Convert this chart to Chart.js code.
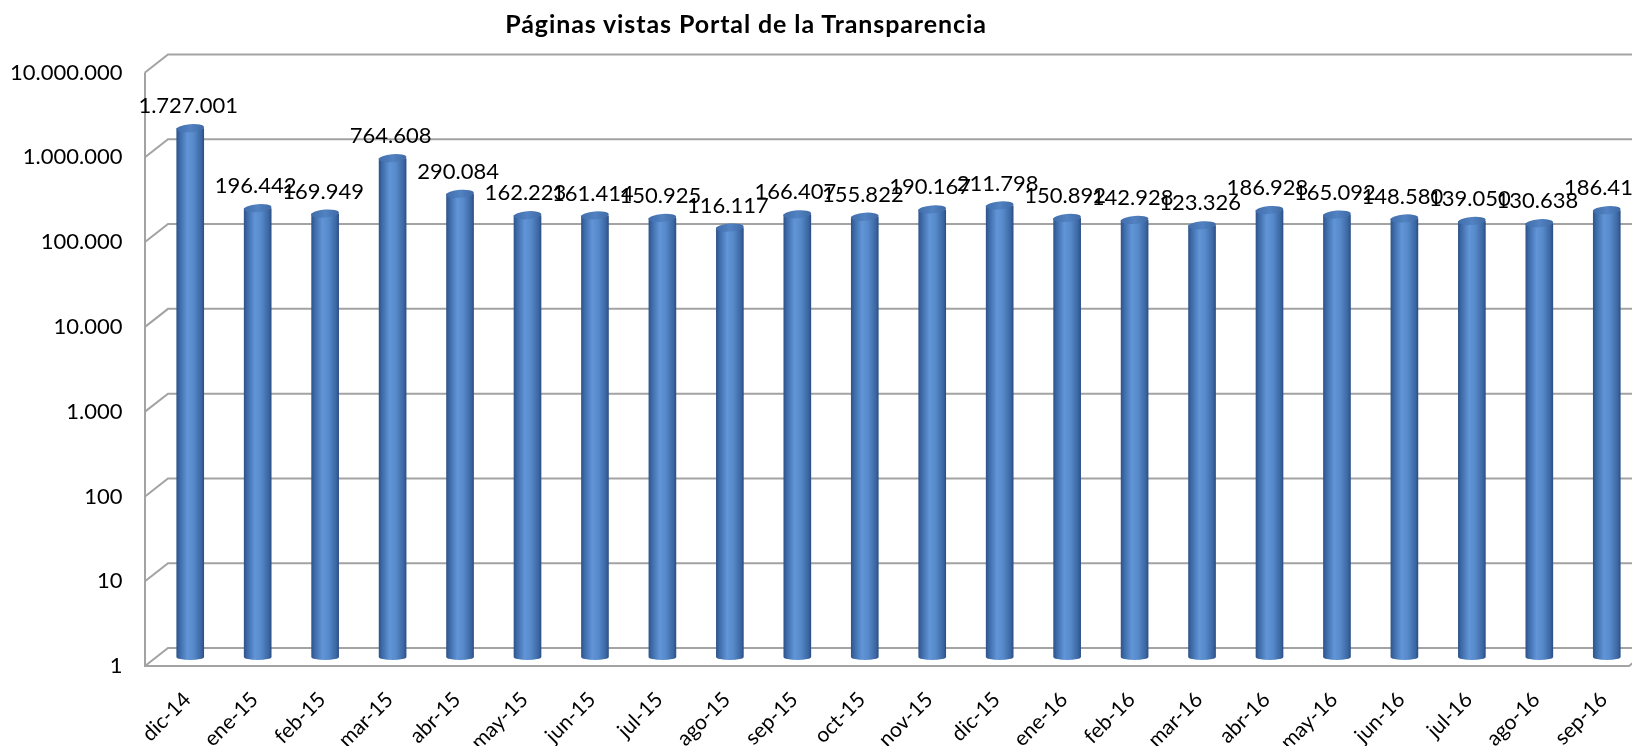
<!DOCTYPE html>
<html lang="es">
<head>
<meta charset="utf-8">
<title>Páginas vistas Portal de la Transparencia</title>
<script src="https://cdn.jsdelivr.net/npm/chart.js@4.4.1/dist/chart.umd.min.js"></script>
<style>
    html, body { margin: 0; padding: 0; background: #fff; overflow: hidden; }
    #wrap { position: relative; width: 1632px; height: 746px; overflow: hidden; }
    #chartTitle {
        position: absolute; left: 0; top: 7px; width: 1492px;
        text-align: center; font: bold 25px Lato, sans-serif; color: #000;
        letter-spacing: 0.9px; line-height: 32px;
    }
    canvas { position: absolute; left: 0; top: 0; }
</style>
</head>
<body>
<div id="wrap">
    <canvas id="viewsChart" width="1642" height="746"></canvas>
    <div id="chartTitle">Páginas vistas Portal de la Transparencia</div>
</div>
<script>
// ===== DATA =====
const months = [
    "dic-14", "ene-15", "feb-15", "mar-15", "abr-15", "may-15", "jun-15", "jul-15",
    "ago-15", "sep-15", "oct-15", "nov-15", "dic-15", "ene-16", "feb-16", "mar-16",
    "abr-16", "may-16", "jun-16", "jul-16", "ago-16", "sep-16"
];
const pageViews = [
    1727001, 196442, 169949, 764608, 290084, 162223, 161414, 150925,
    116117, 166407, 155822, 190167, 211798, 150892, 142928, 123326,
    186928, 165092, 148580, 139050, 130638, 186413
];
const yTicks = [1, 10, 100, 1000, 10000, 100000, 1000000, 10000000];

// half depth of the fake 3D box (mid plane -> front / back)
const DEPTH_X = 11.5;
const DEPTH_Y = 9;
const FONT = "Lato, 'Open Sans', sans-serif";

function formatMiles(v) {
    return String(Math.round(v)).replace(/\B(?=(\d{3})+(?!\d))/g, ".");
}

// Walls, gridlines, cylinder bars and slanted month labels
const cylinderPlugin = {
    id: "cylinder3d",
    beforeDatasetsDraw(chart) {
        const { ctx, chartArea: a, scales: { y } } = chart;
        ctx.save();
        ctx.strokeStyle = "#a3a3a3";
        ctx.lineWidth = 2;
        ctx.beginPath();
        yTicks.forEach((v) => {
            const py = y.getPixelForValue(v);
            ctx.moveTo(a.left - DEPTH_X, py + DEPTH_Y);
            ctx.lineTo(a.left + DEPTH_X, py - DEPTH_Y);
            ctx.lineTo(a.right + DEPTH_X, py - DEPTH_Y);
        });
        const topY = y.getPixelForValue(yTicks[yTicks.length - 1]);
        ctx.moveTo(a.left - DEPTH_X, topY + DEPTH_Y);
        ctx.lineTo(a.left - DEPTH_X, a.bottom + DEPTH_Y);
        ctx.lineTo(a.right - DEPTH_X, a.bottom + DEPTH_Y);
        ctx.lineTo(a.right + DEPTH_X, a.bottom - DEPTH_Y);
        ctx.stroke();
        ctx.restore();
    },
    afterDatasetsDraw(chart) {
        const { ctx } = chart;
        const meta = chart.getDatasetMeta(0);
        ctx.save();
        meta.data.forEach((bar, i) => {
            const r = bar.width / 2;
            const left = bar.x - r;
            const right = bar.x + r;

            // body
            const grad = ctx.createLinearGradient(left, 0, right, 0);
            grad.addColorStop(0, "#2d5287");
            grad.addColorStop(0.12, "#3d6aa8");
            grad.addColorStop(0.4, "#6195d7");
            grad.addColorStop(0.62, "#578aca");
            grad.addColorStop(0.9, "#3b66a2");
            grad.addColorStop(1, "#2b4d7f");
            ctx.fillStyle = grad;
            ctx.beginPath();
            ctx.moveTo(left, bar.y);
            ctx.lineTo(left, bar.base);
            ctx.ellipse(bar.x, bar.base, r, 3, 0, Math.PI, 0, true);
            ctx.lineTo(right, bar.y);
            ctx.closePath();
            ctx.fill();

            // top cap
            const capGrad = ctx.createLinearGradient(left, 0, right, 0);
            capGrad.addColorStop(0, "#416daa");
            capGrad.addColorStop(0.5, "#5282c2");
            capGrad.addColorStop(1, "#3f6aa5");
            ctx.fillStyle = capGrad;
            ctx.beginPath();
            ctx.ellipse(bar.x, bar.y, r, 4, -0.08, 0, Math.PI * 2);
            ctx.fill();

            // value label
            ctx.fillStyle = "#000";
            ctx.font = "22px " + FONT;
            ctx.textAlign = "center";
            ctx.textBaseline = "middle";
            ctx.fillText(formatMiles(pageViews[i]), bar.x - 2, bar.y - 22);
        });
        ctx.restore();
    },
    afterDraw(chart) {
        const { ctx, chartArea: a, scales: { x } } = chart;
        ctx.save();
        ctx.fillStyle = "#000";
        ctx.font = "21px " + FONT;
        ctx.textAlign = "right";
        ctx.textBaseline = "middle";
        chart.data.labels.forEach((label, i) => {
            ctx.save();
            ctx.translate(x.getPixelForTick(i) - 3, a.bottom + 39);
            ctx.rotate(-Math.PI / 4);
            ctx.fillText(label, 0, 0);
            ctx.restore();
        });
        ctx.restore();
    }
};

document.addEventListener("DOMContentLoaded", function () {
    const ctx = document.getElementById("viewsChart");
    new Chart(ctx, {
        type: "bar",
        data: {
            labels: months,
            datasets: [
                {
                    label: "Páginas vistas",
                    data: pageViews,
                    backgroundColor: "rgba(0,0,0,0)",
                    borderWidth: 0,
                    categoryPercentage: 1,
                    barPercentage: 0.41,
                },
            ],
        },
        options: {
            responsive: false,
            animation: false,
            layout: { padding: { top: 63.5, right: 1.5, left: 0, bottom: 0 } },
            plugins: {
                legend: { display: false },
                tooltip: { enabled: false },
                title: { display: false },
            },
            scales: {
                x: {
                    grid: { display: false, drawTicks: false },
                    border: { display: false },
                    ticks: { display: false },
                    afterFit(scale) {
                        scale.height = 89;
                    },
                },
                y: {
                    type: "logarithmic",
                    min: 1,
                    max: 10000000,
                    grid: { display: false, drawTicks: false },
                    border: { display: false },
                    afterBuildTicks(scale) {
                        scale.ticks = yTicks.map((v) => ({ value: v }));
                    },
                    ticks: {
                        padding: 34,
                        labelOffset: 9,
                        color: "#000",
                        font: { family: FONT, size: 22 },
                        callback: (v) => formatMiles(v),
                    },
                    afterFit(scale) {
                        scale.width = 156.5;
                    },
                },
            },
        },
        plugins: [cylinderPlugin],
    });
});
</script>
</body>
</html>
